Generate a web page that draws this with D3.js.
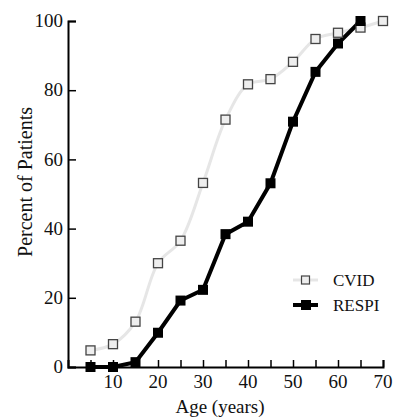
<!DOCTYPE html>
<html>
<head>
<meta charset="utf-8">
<script src="https://cdn.jsdelivr.net/npm/d3@7"></script>
<style>
  body { margin: 0; background: #fff; }
  text { font-family: "Liberation Serif", "DejaVu Serif", serif; fill: #111; }
</style>
</head>
<body>
<div id="chart"></div>
<script>
const ages = [5, 10, 15, 20, 25, 30, 35, 40, 45, 50, 55, 60, 65, 70];
const cvid = [4.8, 6.6, 13.1, 30.0, 36.5, 53.2, 71.5, 81.7, 83.2, 88.2, 94.8, 96.6, 98.1, 100];
const respiAges = [5, 10, 15, 20, 25, 30, 35, 40, 45, 50, 55, 60, 65];
const respi = [0, 0, 1.4, 9.9, 19.2, 22.3, 38.4, 42.0, 53.1, 70.9, 85.3, 93.5, 100];
const xTicks = [10, 20, 30, 40, 50, 60, 70];
const xMinor = [5, 15, 25, 35, 45, 55, 65];
const yTicks = [0, 20, 40, 60, 80, 100];

const width = 395;
const height = 417;
const margin = { left: 68, right: 12, top: 21, bottom: 50 };

const svg = d3
  .select("#chart")
  .append("svg")
  .attr("width", width)
  .attr("height", height);

const x = d3.scaleLinear().domain([0, 70]).range([margin.left, width - margin.right]);
const y = d3.scaleLinear().domain([0, 100]).range([height - margin.bottom, margin.top]);

// axes, ticks pointing inward
const xAxis = svg
  .append("g")
  .attr("transform", `translate(0, ${y(0)})`)
  .call(d3.axisTop(x).tickValues(xTicks.concat(xMinor)).tickSize(7).tickFormat(""));
xAxis.select(".domain").attr("stroke-width", 2);
xAxis.selectAll(".tick line").attr("stroke-width", 1.5);

svg
  .append("g")
  .selectAll("text")
  .data(xTicks)
  .join("text")
  .attr("x", (d) => x(d))
  .attr("y", y(0) + 21)
  .attr("text-anchor", "middle")
  .attr("font-size", 19)
  .text((d) => d);

const yAxis = svg
  .append("g")
  .attr("transform", `translate(${x(0)}, 0)`)
  .call(d3.axisRight(y).tickValues(yTicks).tickSize(8).tickFormat(""));
yAxis.select(".domain").attr("stroke-width", 2);
yAxis.selectAll(".tick line").attr("stroke-width", 1.5);

svg
  .append("g")
  .selectAll("text")
  .data(yTicks)
  .join("text")
  .attr("x", x(0) - 5)
  .attr("y", (d) => y(d))
  .attr("dy", "0.33em")
  .attr("text-anchor", "end")
  .attr("font-size", 19)
  .text((d) => d);

svg
  .append("text")
  .attr("x", 220)
  .attr("y", 413)
  .attr("text-anchor", "middle")
  .attr("font-size", 19)
  .text("Age (years)");

svg
  .append("text")
  .attr("transform", "translate(32, 182) rotate(-90)")
  .attr("text-anchor", "middle")
  .attr("font-size", 20)
  .text("Percent of Patients");

const line = d3
  .line()
  .x((d) => x(d[0]))
  .y((d) => y(d[1]))
  .curve(d3.curveCatmullRom);

const cvidData = ages.map((a, i) => [a, cvid[i]]);
const respiData = respiAges.map((a, i) => [a, respi[i]]);

svg
  .append("path")
  .datum(cvidData)
  .attr("fill", "none")
  .attr("stroke", "#e6e6e6")
  .attr("stroke-width", 3)
  .attr("d", line);

svg
  .append("path")
  .datum(respiData)
  .attr("fill", "none")
  .attr("stroke", "#000")
  .attr("stroke-width", 4)
  .attr("d", d3.line().x((d) => x(d[0])).y((d) => y(d[1])));

const sq = 9;
svg
  .append("g")
  .selectAll("rect")
  .data(cvidData)
  .join("rect")
  .attr("x", (d) => x(d[0]) - sq / 2)
  .attr("y", (d) => y(d[1]) - sq / 2)
  .attr("width", sq)
  .attr("height", sq)
  .attr("fill", "#eeeeee")
  .attr("stroke", "#444")
  .attr("stroke-width", 1.3);

svg
  .append("g")
  .selectAll("rect")
  .data(respiData)
  .join("rect")
  .attr("x", (d) => x(d[0]) - 5)
  .attr("y", (d) => y(d[1]) - 5)
  .attr("width", 10)
  .attr("height", 10)
  .attr("fill", "#000");

// legend
const legend = svg.append("g").attr("transform", "translate(293, 280)");
legend
  .append("line")
  .attr("x1", 0).attr("x2", 25).attr("y1", 0).attr("y2", 0)
  .attr("stroke", "#e6e6e6").attr("stroke-width", 3);
legend
  .append("rect")
  .attr("x", 8.5).attr("y", -4).attr("width", 8).attr("height", 8)
  .attr("fill", "#eeeeee").attr("stroke", "#444").attr("stroke-width", 1.2);
legend
  .append("text")
  .attr("x", 40).attr("y", 0).attr("dy", "0.35em")
  .attr("font-size", 17).text("CVID");

legend
  .append("line")
  .attr("x1", 0).attr("x2", 25).attr("y1", 25).attr("y2", 25)
  .attr("stroke", "#000").attr("stroke-width", 4);
legend
  .append("rect")
  .attr("x", 8).attr("y", 20).attr("width", 10).attr("height", 10)
  .attr("fill", "#000");
legend
  .append("text")
  .attr("x", 40).attr("y", 25).attr("dy", "0.35em")
  .attr("font-size", 17).text("RESPI");
</script>
</body>
</html>
